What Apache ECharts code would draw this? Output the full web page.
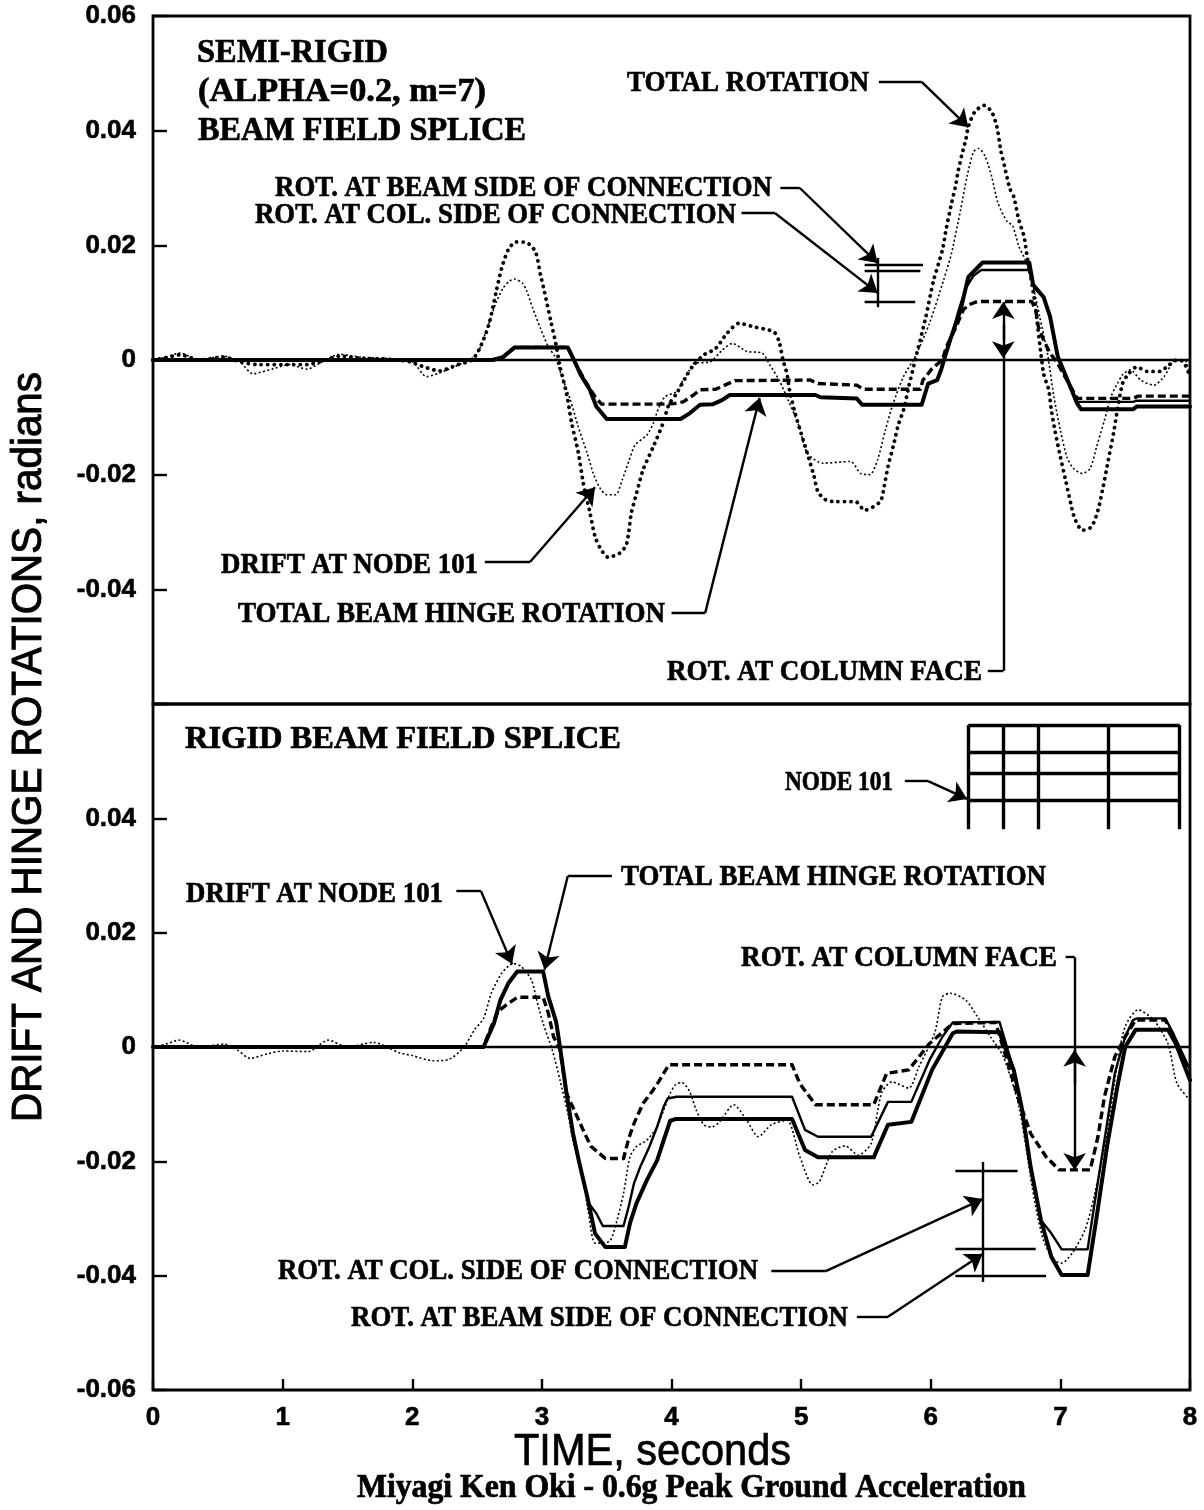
<!DOCTYPE html>
<html>
<head>
<meta charset="utf-8">
<style>html,body{margin:0;padding:0;background:#fff}#c{width:1204px;height:1510px}</style>
<script src="https://cdn.jsdelivr.net/npm/echarts@6/dist/echarts.min.js"></script>
</head>
<body>
<div id="c"></div>
<script>
// ---------- tick labels ----------
var timeTicks = ['0','1','2','3','4','5','6','7','8'];
var topYLabels = ['0.06','0.04','0.02','0','-0.02','-0.04'];
var bottomYLabels = ['0.04','0.02','0','-0.02','-0.04','-0.06'];
var zeroLine = [[0,0],[8,0]];

// ---------- upper panel: semi-rigid ----------
var topTotalRotation = [[0,0],[0.1,0.0004],[0.21,0.0009],[0.36,0],[0.54,0.0005],[0.67,-0.0003],[0.8,-0.0008],[1.0,-0.0008],[1.19,-0.0008],[1.29,-0.0003],[1.44,0.0007],[1.6,0.0003],[1.78,0.0002],[1.98,-0.0003],[2.09,-0.0012],[2.21,-0.0019],[2.34,-0.0009],[2.46,0],[2.52,0.002],[2.59,0.0061],[2.65,0.0122],[2.69,0.016],[2.74,0.0192],[2.8,0.0206],[2.88,0.0205],[2.95,0.0189],[2.99,0.0148],[3.02,0.0119],[3.07,0.0067],[3.11,0.0026],[3.14,-0.0012],[3.19,-0.0058],[3.23,-0.011],[3.28,-0.016],[3.32,-0.0215],[3.37,-0.0265],[3.41,-0.0308],[3.45,-0.0328],[3.51,-0.0344],[3.6,-0.0337],[3.65,-0.0323],[3.67,-0.03],[3.69,-0.0267],[3.73,-0.0233],[3.78,-0.0192],[3.86,-0.0151],[3.93,-0.0113],[3.98,-0.0078],[4.04,-0.0058],[4.12,-0.0026],[4.17,-0.0009],[4.25,0.0009],[4.34,0.002],[4.43,0.0047],[4.52,0.0064],[4.63,0.0058],[4.79,0.0049],[4.83,0.0032],[4.86,0],[4.89,-0.0023],[4.91,-0.0052],[4.95,-0.009],[5.0,-0.0128],[5.06,-0.0172],[5.1,-0.0203],[5.13,-0.023],[5.19,-0.0244],[5.26,-0.0247],[5.42,-0.0247],[5.49,-0.0262],[5.61,-0.0247],[5.64,-0.0221],[5.67,-0.0186],[5.71,-0.0151],[5.75,-0.0113],[5.79,-0.0087],[5.83,-0.0047],[5.88,0],[5.96,0.0073],[6.02,0.0137],[6.09,0.0192],[6.12,0.023],[6.16,0.0273],[6.19,0.0302],[6.21,0.0328],[6.24,0.0358],[6.27,0.0384],[6.29,0.0407],[6.34,0.0433],[6.41,0.0444],[6.47,0.0433],[6.51,0.0407],[6.54,0.0366],[6.57,0.0337],[6.61,0.0299],[6.64,0.0285],[6.68,0.0244],[6.72,0.0215],[6.74,0.0186],[6.8,0.0105],[6.87,-0.0023],[6.91,-0.0052],[6.93,-0.0087],[6.96,-0.0125],[7.0,-0.0169],[7.04,-0.0209],[7.08,-0.025],[7.11,-0.0276],[7.17,-0.0297],[7.24,-0.0291],[7.29,-0.0262],[7.33,-0.0221],[7.37,-0.0174],[7.41,-0.0128],[7.44,-0.0087],[7.48,-0.0041],[7.53,-0.0023],[7.59,-0.0012],[7.67,-0.002],[7.77,-0.002],[7.82,-0.0012],[7.9,0],[7.95,-0.0003],[8,-0.0029]];
var topDrift = [[0,0],[0.1,0.0005],[0.21,0.0012],[0.36,0],[0.54,0.0007],[0.67,-0.0003],[0.77,-0.0024],[0.93,-0.0015],[1.05,-0.0008],[1.19,-0.0016],[1.29,-0.0005],[1.44,0.001],[1.6,0.0005],[1.78,0.0003],[2.0,-0.0003],[2.11,-0.0029],[2.27,-0.0017],[2.46,0.0003],[2.51,0.0015],[2.56,0.0044],[2.6,0.007],[2.65,0.0102],[2.7,0.0125],[2.75,0.0138],[2.79,0.0141],[2.85,0.0134],[2.88,0.0122],[2.93,0.009],[2.99,0.0055],[3.05,0.0023],[3.1,0.0006],[3.15,-0.0026],[3.22,-0.007],[3.28,-0.0116],[3.35,-0.0163],[3.4,-0.02],[3.45,-0.0224],[3.5,-0.0235],[3.57,-0.0235],[3.62,-0.0209],[3.67,-0.0177],[3.72,-0.0148],[3.81,-0.0131],[3.86,-0.011],[3.9,-0.0084],[3.95,-0.0064],[4.04,-0.0055],[4.09,-0.0035],[4.14,-0.0017],[4.17,-0.0006],[4.3,-0.0003],[4.39,0.0017],[4.47,0.0029],[4.58,0.0015],[4.7,0.0012],[4.76,-0.0009],[4.83,-0.0035],[4.9,-0.007],[4.98,-0.0113],[5.05,-0.0163],[5.17,-0.018],[5.38,-0.0177],[5.46,-0.0198],[5.53,-0.02],[5.59,-0.0174],[5.65,-0.0122],[5.71,-0.0076],[5.79,-0.0029],[5.88,0.0006],[5.99,0.0064],[6.1,0.014],[6.16,0.0186],[6.23,0.0262],[6.28,0.032],[6.33,0.0363],[6.37,0.0369],[6.42,0.0355],[6.47,0.032],[6.52,0.0273],[6.59,0.0241],[6.63,0.0235],[6.68,0.0198],[6.73,0.0174],[6.79,0.0128],[6.84,0.0076],[6.9,0.0012],[6.95,-0.0064],[7.0,-0.0122],[7.05,-0.0169],[7.1,-0.0189],[7.17,-0.0198],[7.23,-0.0189],[7.28,-0.0151],[7.34,-0.0105],[7.39,-0.0064],[7.44,-0.0041],[7.48,-0.0026],[7.54,-0.0017],[7.62,-0.0035],[7.72,-0.0044],[7.8,-0.0029],[7.89,0],[7.96,0],[8,-0.0029]];
var topBeamSide = [[0,0],[2.62,0],[2.7,0.0005],[2.79,0.0022],[3.2,0.0022],[3.26,-0.0006],[3.3,-0.0026],[3.37,-0.0052],[3.42,-0.0081],[3.5,-0.0103],[4.07,-0.0103],[4.14,-0.0093],[4.22,-0.0078],[4.32,-0.0077],[4.39,-0.007],[4.45,-0.0061],[5.11,-0.0061],[5.15,-0.0065],[5.43,-0.0067],[5.47,-0.0078],[5.93,-0.0078],[5.98,-0.0041],[6.05,-0.0035],[6.08,-0.0017],[6.11,0.0006],[6.15,0.0035],[6.23,0.0087],[6.29,0.0145],[6.4,0.017],[6.76,0.017],[6.79,0.0131],[6.87,0.011],[6.92,0.0076],[6.98,0.0006],[7.13,-0.0076],[7.16,-0.0086],[7.56,-0.0086],[7.59,-0.0081],[8,-0.0081]];
var topColSide = [[0,0],[2.62,0],[2.7,0.0005],[2.79,0.0022],[3.2,0.0022],[3.26,-0.0006],[3.3,-0.0026],[3.37,-0.0052],[3.42,-0.0081],[3.5,-0.0103],[4.07,-0.0103],[4.14,-0.0093],[4.22,-0.0078],[4.32,-0.0077],[4.39,-0.007],[4.45,-0.0061],[5.11,-0.0061],[5.15,-0.0065],[5.43,-0.0067],[5.47,-0.0078],[5.93,-0.0078],[5.98,-0.0041],[6.05,-0.0035],[6.08,-0.0017],[6.11,0.0006],[6.15,0.0035],[6.22,0.009],[6.27,0.0125],[6.33,0.0147],[6.39,0.0157],[6.76,0.0157],[6.8,0.0125],[6.87,0.011],[6.92,0.0076],[6.98,0.0006],[7.12,-0.0073],[7.56,-0.0073],[7.59,-0.0071],[8,-0.0071]];
var topColFace = [[0,0],[2.62,0],[2.7,0.0005],[2.79,0.0022],[3.2,0.0022],[3.26,-0.0006],[3.33,-0.0035],[3.41,-0.0064],[3.46,-0.0077],[3.94,-0.0077],[4.02,-0.0076],[4.09,-0.0073],[4.17,-0.0061],[4.22,-0.0052],[4.34,-0.0051],[4.4,-0.0045],[4.49,-0.0036],[5.07,-0.0035],[5.13,-0.0041],[5.43,-0.0044],[5.48,-0.0051],[5.92,-0.0051],[5.94,-0.0035],[6.01,-0.0015],[6.09,0],[6.12,0.0023],[6.19,0.0055],[6.25,0.0087],[6.29,0.0096],[6.36,0.0102],[6.78,0.0102],[6.81,0.0087],[6.83,0.0058],[6.87,0.0035],[6.92,0.0012],[6.98,-0.0006],[7.02,-0.0023],[7.13,-0.0067],[7.56,-0.0067],[7.6,-0.0063],[8,-0.0063]];

// ---------- lower panel: rigid ----------
var bottomDrift = [[0,0],[0.1,0.0005],[0.2,0.0012],[0.35,0],[0.55,0.0005],[0.65,-0.0005],[0.75,-0.002],[0.88,-0.0012],[1.0,-0.0007],[1.2,-0.0008],[1.35,0.0012],[1.5,0],[1.7,0.0008],[1.9,-0.001],[2.0,-0.0015],[2.16,-0.0024],[2.28,-0.0022],[2.4,0],[2.48,0.003],[2.55,0.005],[2.61,0.0094],[2.69,0.0129],[2.78,0.0146],[2.84,0.0141],[2.92,0.0117],[2.96,0.0082],[3.01,0.0041],[3.08,-0.0005],[3.14,-0.0058],[3.2,-0.0116],[3.25,-0.0174],[3.31,-0.0221],[3.36,-0.0291],[3.41,-0.0343],[3.48,-0.0343],[3.53,-0.0338],[3.58,-0.0303],[3.63,-0.0256],[3.68,-0.0192],[3.73,-0.0174],[3.81,-0.0163],[3.89,-0.0139],[3.94,-0.011],[3.99,-0.0081],[4.03,-0.0066],[4.08,-0.0062],[4.14,-0.0078],[4.19,-0.011],[4.25,-0.0136],[4.31,-0.014],[4.37,-0.0131],[4.48,-0.0101],[4.58,-0.0128],[4.67,-0.0157],[4.77,-0.0136],[4.89,-0.0128],[4.99,-0.0192],[5.09,-0.0241],[5.14,-0.0236],[5.24,-0.0183],[5.34,-0.0173],[5.44,-0.0189],[5.54,-0.0169],[5.62,-0.0081],[5.7,-0.0061],[5.83,-0.0072],[5.91,-0.0034],[6.03,0.0024],[6.09,0.0088],[6.15,0.0094],[6.27,0.0082],[6.36,0.0053],[6.46,0.0018],[6.56,-0.0017],[6.68,-0.0104],[6.8,-0.0268],[6.87,-0.0338],[6.95,-0.0373],[7.01,-0.0378],[7.09,-0.0361],[7.19,-0.032],[7.26,-0.0262],[7.36,-0.0151],[7.44,-0.0029],[7.5,0.0036],[7.6,0.0065],[7.72,0.0047],[7.83,0.0006],[7.9,-0.0064],[8,-0.0093]];
var bottomBeamSide = [[0,0],[2.55,0],[2.63,0.0041],[2.68,0.0082],[2.74,0.0111],[2.81,0.0132],[3.01,0.0132],[3.05,0.0088],[3.11,0.0044],[3.14,0],[3.19,-0.0081],[3.24,-0.0151],[3.29,-0.0204],[3.35,-0.0262],[3.41,-0.0326],[3.49,-0.035],[3.64,-0.035],[3.68,-0.0308],[3.73,-0.0273],[3.81,-0.0233],[3.89,-0.0198],[3.94,-0.0163],[3.99,-0.0129],[4.03,-0.0126],[4.93,-0.0126],[5.03,-0.018],[5.13,-0.0193],[5.56,-0.0193],[5.67,-0.0136],[5.85,-0.0131],[6.01,-0.004],[6.17,0.0024],[6.2,0.0027],[6.53,0.0026],[6.58,-0.0005],[6.64,-0.004],[6.7,-0.0104],[6.77,-0.0209],[6.85,-0.0303],[6.93,-0.0367],[7.01,-0.0399],[7.21,-0.0399],[7.28,-0.0297],[7.36,-0.0174],[7.44,-0.0069],[7.5,0],[7.58,0.003],[7.83,0.003],[7.89,0.0006],[8,-0.0058]];
var bottomColSide = [[0,0],[2.55,0],[2.63,0.0041],[2.68,0.0082],[2.74,0.0111],[2.81,0.0132],[3.01,0.0132],[3.05,0.0088],[3.11,0.0044],[3.14,0],[3.19,-0.0081],[3.24,-0.0151],[3.29,-0.0204],[3.35,-0.0262],[3.37,-0.0276],[3.42,-0.0291],[3.47,-0.0313],[3.63,-0.0313],[3.67,-0.0279],[3.71,-0.0239],[3.76,-0.0209],[3.83,-0.0174],[3.89,-0.0139],[3.94,-0.0104],[3.97,-0.009],[4.04,-0.0087],[4.93,-0.0087],[5.03,-0.0145],[5.13,-0.0157],[5.54,-0.0157],[5.67,-0.0096],[5.85,-0.0096],[5.99,-0.0023],[6.09,0.0018],[6.17,0.0043],[6.53,0.0044],[6.58,0.0006],[6.64,-0.004],[6.7,-0.0104],[6.77,-0.0209],[6.85,-0.0303],[6.93,-0.0326],[7.01,-0.0354],[7.21,-0.0354],[7.26,-0.0279],[7.34,-0.0163],[7.42,-0.0046],[7.5,0.0018],[7.56,0.0047],[7.59,0.005],[7.81,0.005],[7.87,0.0024],[8,-0.004]];
var bottomColFace = [[0,0],[2.55,0],[2.6,0.003],[2.66,0.0062],[2.74,0.0076],[2.81,0.0087],[3.01,0.0087],[3.05,0.0059],[3.09,0.0018],[3.14,-0.0005],[3.19,-0.0081],[3.26,-0.0116],[3.33,-0.0151],[3.38,-0.0174],[3.49,-0.0195],[3.63,-0.0195],[3.67,-0.016],[3.71,-0.0134],[3.78,-0.0099],[3.85,-0.0078],[3.9,-0.0061],[3.98,-0.0031],[4.93,-0.0031],[4.99,-0.0064],[5.11,-0.0101],[5.56,-0.0101],[5.66,-0.0046],[5.83,-0.004],[5.99,0.0006],[6.17,0.0041],[6.5,0.0043],[6.58,-0.0017],[6.68,-0.0093],[6.77,-0.0151],[6.89,-0.0192],[6.99,-0.0215],[7.23,-0.0215],[7.29,-0.0157],[7.34,-0.0087],[7.42,-0.0017],[7.5,0.0018],[7.58,0.0047],[7.81,0.0047],[7.91,0],[8,-0.0052]];

// ---------- annotation geometry, in axis units (time, radians) ----------
var topLeaders = [
  [[5.60,0.0485],[5.93,0.0485]],
  [[4.84,0.030],[4.99,0.030]],
  [[4.54,0.0256],[4.80,0.0256]],
  [[5.59,0.0178],[5.59,0.0092]],
  [[5.49,0.0167],[5.94,0.0167]],
  [[5.49,0.0155],[5.92,0.0155]],
  [[5.49,0.0101],[5.88,0.0101]],
  [[2.56,-0.0352],[2.91,-0.0352]],
  [[4.00,-0.0441],[4.26,-0.0441]],
  [[6.44,-0.0542],[6.56,-0.0542]],
  [[6.56,-0.0542],[6.56,0.0003]]
];
var topArrows = [
  [[5.93,0.0485],[6.29,0.0406]],
  [[4.99,0.030],[5.59,0.0169]],
  [[4.80,0.0256],[5.59,0.0117]],
  [[2.91,-0.0352],[3.41,-0.0222]],
  [[4.26,-0.0441],[4.68,-0.0066]],
  [[6.56,0.0035],[6.56,0.0101]],
  [[6.56,0.0061],[6.56,0.0003]]
];
var bottomLeaders = [
  [[5.80,0.0465],[5.98,0.0465]],
  [[2.34,0.0273],[2.53,0.0273]],
  [[3.54,0.0299],[3.20,0.0299]],
  [[7.04,0.0157],[7.11,0.0157]],
  [[6.40,-0.0201],[6.40,-0.0411]],
  [[6.19,-0.0217],[6.67,-0.0217]],
  [[6.19,-0.0353],[6.81,-0.0353]],
  [[6.19,-0.0401],[6.89,-0.0401]],
  [[4.77,-0.0392],[5.19,-0.0392]],
  [[5.43,-0.0472],[5.67,-0.0472]]
];
var bottomArrows = [
  [[5.98,0.0465],[6.28,0.0434]],
  [[2.53,0.0273],[2.77,0.0145]],
  [[3.20,0.0299],[3.02,0.0135]],
  [[7.11,0.0157],[7.11,-0.0215]],
  [[7.11,-0.0066],[7.11,-0.0005]],
  [[5.19,-0.0392],[6.40,-0.0266]],
  [[5.67,-0.0472],[6.40,-0.0362]]
];
var frameBeams = [0.0563,0.0516,0.0478,0.0432];
var frameColumns = [6.29,6.56,6.83,7.37,7.92];
var frameBase = 0.0381;

// ---------- text ----------
var headings = [
  ['SEMI-RIGID',197,388,53,33],
  ['(ALPHA=0.2, m=7)',198,486,92,33],
  ['BEAM FIELD SPLICE',198,526,131,33],
  ['TOTAL ROTATION',627,869,83,30],
  ['ROT. AT BEAM SIDE OF CONNECTION',275,772,188,30],
  ['ROT. AT COL. SIDE OF CONNECTION',255,736,215,30],
  ['DRIFT AT NODE 101',221,478,565,30],
  ['TOTAL BEAM HINGE ROTATION',238,665,614,30],
  ['ROT. AT COLUMN FACE',667,982,672,30],
  ['RIGID BEAM FIELD SPLICE',185,621,740,32],
  ['NODE 101',785,893,783,27],
  ['DRIFT AT NODE 101',186,443,894,30],
  ['TOTAL BEAM HINGE ROTATION',621,1046,877,30],
  ['ROT. AT COLUMN FACE',741,1057,958,30],
  ['ROT. AT COL. SIDE OF CONNECTION',278,758,1271,30],
  ['ROT. AT BEAM SIDE OF CONNECTION',351,848,1318,30],
  ['Miyagi Ken Oki - 0.6g Peak Ground Acceleration',357,1026,1488,33]
];

// ---------- helpers ----------
var SERIF = '"Liberation Serif", serif';
var SANS = '"Liberation Sans", Arial, sans-serif';
var measureCtx = document.createElement('canvas').getContext('2d');
function fitScale(text, font, width) {
  measureCtx.font = font;
  return width / measureCtx.measureText(text).width;
}
function serifText(h) {
  var font = 'bold ' + h[4] + 'px ' + SERIF;
  return {
    type: 'text', x: h[1], y: h[3], scaleX: fitScale(h[0], font, h[2] - h[1]), silent: true, z: 20,
    style: { text: h[0], font: font, fill: '#000', stroke: '#000', lineWidth: 0.7, textAlign: 'left', textVerticalAlign: 'middle' }
  };
}
function curve(name, data, panel, kind) {
  var styles = {
    thickDot: { width: 3.8, type: [0.1, 6.4], cap: 'round', smooth: 0.25 },
    thinDot: { width: 1.6, type: [2, 2.4], cap: 'butt', smooth: 0.25 },
    dash: { width: 3.4, type: [8, 4], cap: 'butt', smooth: false },
    thick: { width: 4, type: 'solid', cap: 'round', smooth: false },
    thin: { width: 2.4, type: 'solid', cap: 'round', smooth: false },
    zero: { width: 2.4, type: 'solid', cap: 'butt', smooth: false }
  };
  var s = styles[kind];
  return {
    name: name, type: 'line', data: data, xAxisIndex: panel, yAxisIndex: panel,
    showSymbol: false, symbol: 'none', smooth: s.smooth, silent: true, animation: false,
    lineStyle: { color: '#000', width: s.width, type: s.type, cap: s.cap, join: 'round' }
  };
}
function toMarkSegs(list) {
  return list.map(function (p) { return [{ coord: p[0] }, { coord: p[1] }]; });
}
function annotation(panel, leaders) {
  return {
    type: 'line', data: [], xAxisIndex: panel, yAxisIndex: panel, silent: true, animation: false,
    markLine: {
      silent: true, animation: false, precision: 5, label: { show: false },
      symbol: ['none', 'none'], lineStyle: { color: '#000', width: 2.4, type: 'solid' },
      emphasis: { disabled: true },
      data: toMarkSegs(leaders)
    }
  };
}
function arrowSeries(panel, arrows) {
  return {
    type: 'line', data: [], xAxisIndex: panel, yAxisIndex: panel, silent: true, animation: false,
    markLine: {
      silent: true, animation: false, precision: 5, label: { show: false },
      symbol: ['none', 'arrow'], symbolSize: 17, lineStyle: { color: '#000', width: 2.4, type: 'solid' },
      emphasis: { disabled: true },
      data: toMarkSegs(arrows)
    }
  };
}
function frameSegments() {
  var segs = [];
  var x0 = frameColumns[0], x1 = frameColumns[frameColumns.length - 1];
  frameBeams.forEach(function (v) { segs.push([[x0, v], [x1, v]]); });
  frameColumns.forEach(function (t) { segs.push([[t, frameBeams[0]], [t, frameBase]]); });
  return segs;
}
function frameSeries() {
  var s = annotation(1, frameSegments());
  s.markLine.lineStyle.width = 3.4;
  return s;
}
function yAxis(panel, allowed) {
  return {
    type: 'value', gridIndex: panel, min: -0.06, max: 0.06, interval: 0.02,
    axisLine: { show: false }, splitLine: { show: false },
    axisTick: { show: true, inside: true, length: 14, lineStyle: { color: '#000', width: 2.4 } },
    axisLabel: {
      show: true, margin: 17, color: '#000', fontFamily: SANS, fontWeight: 'bold', fontSize: 26,
      textBorderColor: '#000', textBorderWidth: 0.6, padding: [5, 0, 0, 0],
      formatter: function (v) {
        var t = Math.abs(v) < 1e-9 ? '0' : v.toFixed(2);
        return allowed.indexOf(t) >= 0 ? t : '';
      }
    }
  };
}

var option = {
  backgroundColor: '#fff',
  animation: false,
  grid: [
    { left: 153, right: 14, top: 16, height: 688, show: true, borderColor: '#000', borderWidth: 2.8, backgroundColor: 'transparent' },
    { left: 153, right: 14, top: 704, height: 686, show: true, borderColor: '#000', borderWidth: 2.8, backgroundColor: 'transparent' }
  ],
  xAxis: [
    { type: 'value', gridIndex: 0, min: 0, max: 8, interval: 1, show: false },
    {
      type: 'value', gridIndex: 1, min: 0, max: 8, interval: 1,
      axisLine: { onZero: false, show: false }, splitLine: { show: false },
      axisTick: { show: true, inside: true, length: 11, lineStyle: { color: '#000', width: 2.4 } },
      axisLabel: {
        show: true, margin: 15, color: '#000', fontFamily: SANS, fontWeight: 'bold', fontSize: 26,
        textBorderColor: '#000', textBorderWidth: 0.6, showMinLabel: true, showMaxLabel: true,
        formatter: function (v) { return timeTicks[Math.round(v)]; }
      }
    }
  ],
  yAxis: [yAxis(0, topYLabels), yAxis(1, bottomYLabels)],
  series: [
    curve('Zero', zeroLine, 0, 'zero'),
    curve('Total rotation', topTotalRotation, 0, 'thickDot'),
    curve('Drift at node 101', topDrift, 0, 'thinDot'),
    curve('Rot. at column face', topColFace, 0, 'dash'),
    curve('Rot. at col. side of connection', topColSide, 0, 'thin'),
    curve('Rot. at beam side of connection', topBeamSide, 0, 'thick'),
    annotation(0, topLeaders),
    arrowSeries(0, topArrows),
    curve('Zero', zeroLine, 1, 'zero'),
    curve('Drift at node 101', bottomDrift, 1, 'thinDot'),
    curve('Rot. at column face', bottomColFace, 1, 'dash'),
    curve('Rot. at col. side of connection', bottomColSide, 1, 'thin'),
    curve('Rot. at beam side of connection', bottomBeamSide, 1, 'thick'),
    annotation(1, bottomLeaders),
    arrowSeries(1, bottomArrows),
    frameSeries()
  ],
  graphic: {
    elements: headings.map(serifText).concat([
      (function () {
        var t = 'DRIFT AND HINGE ROTATIONS, radians', f = '42px ' + SANS;
        return { type: 'text', x: 29, y: 1122, rotation: Math.PI / 2, scaleX: fitScale(t, f, 750), silent: true, z: 20,
          style: { text: t, font: f, fill: '#000', stroke: '#000', lineWidth: 1, textAlign: 'left', textVerticalAlign: 'middle' } };
      })(),
      (function () {
        var t = 'TIME, seconds', f = '44px ' + SANS;
        return { type: 'text', x: 514, y: 1453, scaleX: fitScale(t, f, 277), silent: true, z: 20,
          style: { text: t, font: f, fill: '#000', stroke: '#000', lineWidth: 0.7, textAlign: 'left', textVerticalAlign: 'middle' } };
      })()
    ])
  }
};
var chart = echarts.init(document.getElementById('c'), null, { renderer: 'canvas', width: 1204, height: 1510 });
chart.setOption(option);
</script>
</body>
</html>
